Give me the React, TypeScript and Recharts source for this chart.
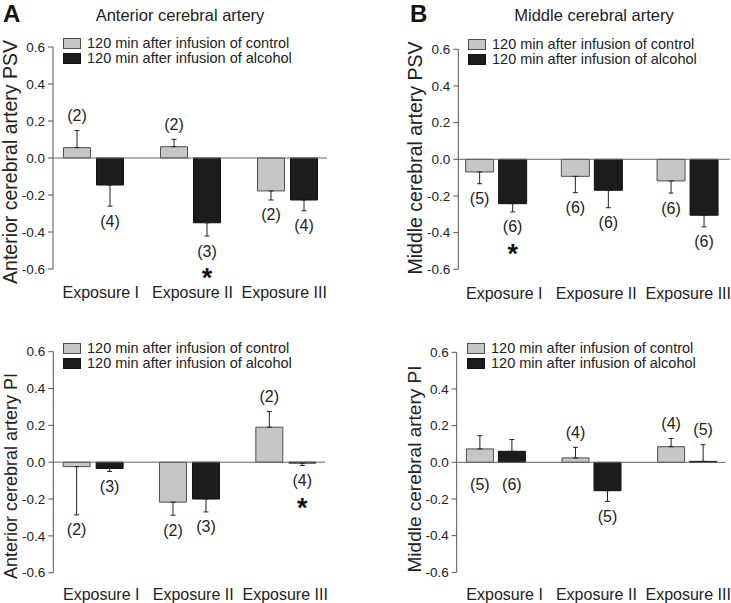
import React from 'react';
import { BarChart, Bar, XAxis, YAxis, ReferenceLine, ErrorBar, LabelList, Legend } from 'recharts';

// ---------- data ----------
const categories = ['Exposure I', 'Exposure II', 'Exposure III'];
const seriesNames = ['120 min after infusion of control', '120 min after infusion of alcohol'];
const yTicks = [-0.6, -0.4, -0.2, 0, 0.2, 0.4, 0.6];
const yMinorTicks = [-0.5, -0.3, -0.1, 0.1, 0.3, 0.5];

// A: anterior cerebral artery PSV
const acaPsvControl = [0.056, 0.061, -0.178];
const acaPsvControlErr = [0.092, 0.04, 0.049];
const acaPsvAlcohol = [-0.146, -0.35, -0.227];
const acaPsvAlcoholErr = [0.114, 0.072, 0.058];
const acaPsvControlN = [2, 2, 2];
const acaPsvAlcoholN = [4, 3, 4];
const acaPsvSignificant = [false, true, false];

// B: middle cerebral artery PSV
const mcaPsvControl = [-0.069, -0.093, -0.118];
const mcaPsvControlErr = [0.064, 0.089, 0.066];
const mcaPsvAlcohol = [-0.242, -0.169, -0.305];
const mcaPsvAlcoholErr = [0.045, 0.095, 0.064];
const mcaPsvControlN = [5, 6, 6];
const mcaPsvAlcoholN = [6, 6, 6];
const mcaPsvSignificant = [true, false, false];

// C: anterior cerebral artery PI
const acaPiControl = [-0.024, -0.217, 0.19];
const acaPiControlErr = [0.262, 0.071, 0.085];
const acaPiAlcohol = [-0.034, -0.2, -0.005];
const acaPiAlcoholErr = [0.016, 0.07, 0.013];
const acaPiControlN = [2, 2, 2];
const acaPiAlcoholN = [3, 3, 4];
const acaPiSignificant = [false, false, true];

// D: middle cerebral artery PI
const mcaPiControl = [0.073, 0.024, 0.085];
const mcaPiControlErr = [0.072, 0.058, 0.045];
const mcaPiAlcohol = [0.06, -0.155, 0.005];
const mcaPiAlcoholErr = [0.064, 0.058, 0.091];
const mcaPiControlN = [5, 4, 4];
const mcaPiAlcoholN = [6, 5, 5];
const mcaPiSignificant = [false, false, false];

// ---------- styles ----------
const FONT = '"Liberation Sans", Arial, Helvetica, sans-serif';
const TEXT = '#222';
const CONTROL_FILL = '#c6c6c6';
const CONTROL_STROKE = '#505050';
const ALCOHOL_FILL = '#1c1c1c';
const ALCOHOL_STROKE = '#111';
const AXIS = '#555';

type Row = {
  cat: string;
  control: number;
  controlE: number;
  controlErr: [number, number];
  alcohol: number;
  alcoholE: number;
  alcoholErr: [number, number];
  nControl: string;
  nAlcohol: string;
  sig: boolean;
};

function buildRows(
  ctrl: number[], ctrlErr: number[], alc: number[], alcErr: number[],
  nC: number[], nA: number[], sig: boolean[]
): Row[] {
  return categories.map((cat, i) => ({
    cat,
    control: ctrl[i],
    controlE: ctrlErr[i],
    controlErr: ctrl[i] >= 0 ? [0, ctrlErr[i]] : [ctrlErr[i], 0],
    alcohol: alc[i],
    alcoholE: alcErr[i],
    alcoholErr: alc[i] >= 0 ? [0, alcErr[i]] : [alcErr[i], 0],
    nControl: `(${nC[i]})`,
    nAlcohol: `(${nA[i]})`,
    sig: sig[i],
  }));
}

type Cfg = {
  left: number; top: number; width: number; height: number;
  plotLeft: number; plotRight: number; plotTop: number; plotBottom: number;
  firstCenter: number; spacing: number; barSize: number; barGap: number;
  labelFirst: number; labelSpacing: number;
  tickGap: number; legendLeft: number; legendTop: number;
  flipControl: boolean[]; flipAlcohol: boolean[];
};

const LABEL_GAP = 15;
const FLIP_GAP = 22;
const STAR_GAP = 21;

function makeLabel(kind: 'control' | 'alcohol', rows: Row[], cfg: Cfg) {
  const ppuFallback = (cfg.plotBottom - cfg.plotTop) / 1.2;
  return (props: any) => {
    const vb = props.viewBox || props;
    const x = Number(vb.x), y = Number(vb.y), w = Number(vb.width), h = Number(vb.height);
    let idx = props.index;
    if (idx == null) idx = rows.findIndex((r) => (kind === 'control' ? r.nControl : r.nAlcohol) === props.value);
    const row = rows[idx];
    if (!row) return null;
    const v = kind === 'control' ? row.control : row.alcohol;
    const e = kind === 'control' ? row.controlE : row.alcoholE;
    const flip = (kind === 'control' ? cfg.flipControl : cfg.flipAlcohol)[idx];
    const zero = v < 0 && h > 0 ? y : y + h;
    const valPix = v < 0 && h > 0 ? y + h : y;
    const k = Math.abs(v) > 1e-9 ? Math.abs(zero - valPix) / Math.abs(v) : ppuFallback;
    const dir = v >= 0 ? -1 : 1;
    const errEnd = valPix + dir * e * k;
    const cy = flip ? zero + FLIP_GAP : errEnd + dir * LABEL_GAP;
    const cx = x + w / 2;
    const text = kind === 'control' ? row.nControl : row.nAlcohol;
    return (
      <g>
        <text x={cx} y={cy + 5.5} textAnchor="middle" fontSize={16} fill={TEXT} fontFamily={FONT}>
          {text}
        </text>
        {kind === 'alcohol' && row.sig ? (
          <text x={cx} y={cy + STAR_GAP + 15} textAnchor="middle" fontSize={27} fontWeight="bold" fill="#111" fontFamily={FONT}>
            *
          </text>
        ) : null}
      </g>
    );
  };
}

const legendContent = () => (
  <svg width={240} height={30} style={{ display: 'block', overflow: 'visible' }}>
    <rect x={0.5} y={0.5} width={17} height={10} fill={CONTROL_FILL} stroke={CONTROL_STROKE} />
    <text x={24} y={10} fontSize={14.5} fill={TEXT} fontFamily={FONT}>{seriesNames[0]}</text>
    <rect x={0.5} y={15.5} width={17} height={10} fill={ALCOHOL_FILL} stroke={ALCOHOL_STROKE} />
    <text x={24} y={25} fontSize={14.5} fill={TEXT} fontFamily={FONT}>{seriesNames[1]}</text>
  </svg>
);

function bandPadding(first: number, spacing: number, plotLeft: number, plotRight: number) {
  const r0 = first - spacing / 2;
  return { left: r0 - plotLeft, right: plotRight - (r0 + 3 * spacing) };
}

function Panel({ cfg, rows }: { cfg: Cfg; rows: Row[] }) {
  const barPad = bandPadding(cfg.firstCenter, cfg.spacing, cfg.plotLeft, cfg.plotRight);
  const labelPad = bandPadding(cfg.labelFirst, cfg.labelSpacing, cfg.plotLeft, cfg.plotRight);
  const yAxisWidth = 40;
  const xAxisHeight = cfg.height - cfg.plotBottom;
  return (
    <div style={{ position: 'absolute', left: cfg.left, top: cfg.top, width: cfg.width, height: cfg.height }}>
      <BarChart
        width={cfg.width}
        height={cfg.height}
        data={rows}
        margin={{ top: cfg.plotTop, left: cfg.plotLeft - yAxisWidth, right: cfg.width - cfg.plotRight, bottom: 0 }}
        barSize={cfg.barSize}
        barGap={cfg.barGap}
      >
        <XAxis dataKey="cat" type="category" hide height={0} padding={barPad} />
        <XAxis
          xAxisId="labels"
          dataKey="cat"
          type="category"
          axisLine={false}
          tickLine={false}
          tickSize={0}
          tickMargin={cfg.tickGap}
          height={xAxisHeight}
          padding={labelPad}
          tick={{ fontSize: 16, fill: TEXT, fontFamily: FONT }}
          interval={0}
        />
        <YAxis
          type="number"
          domain={[-0.6, 0.6]}
          ticks={yTicks}
          width={yAxisWidth}
          tickSize={5}
          tickMargin={3}
          stroke={AXIS}
          tickLine={{ stroke: AXIS }}
          axisLine={{ stroke: AXIS }}
          tick={{ fontSize: 13.5, fill: TEXT, fontFamily: FONT }}
          tickFormatter={(v: number) => v.toFixed(1)}
          allowDataOverflow
        />
        <YAxis
          yAxisId="minor"
          type="number"
          orientation="left"
          mirror
          domain={[-0.6, 0.6]}
          ticks={yMinorTicks}
          tick={false}
          tickSize={2}
          axisLine={false}
          tickLine={{ stroke: AXIS }}
          allowDataOverflow
        />
        <ReferenceLine y={0} stroke="#666" strokeWidth={1} />
        <Bar
          dataKey="control"
          name={seriesNames[0]}
          fill={CONTROL_FILL}
          stroke={CONTROL_STROKE}
          strokeWidth={1}
          isAnimationActive={false}
        >
          <ErrorBar dataKey="controlErr" width={2.5} stroke="#222" strokeWidth={1} isAnimationActive={false} />
          <LabelList dataKey="nControl" content={makeLabel('control', rows, cfg)} />
        </Bar>
        <Bar
          dataKey="alcohol"
          name={seriesNames[1]}
          fill={ALCOHOL_FILL}
          stroke={ALCOHOL_STROKE}
          strokeWidth={1}
          isAnimationActive={false}
        >
          <ErrorBar dataKey="alcoholErr" width={2.5} stroke="#222" strokeWidth={1} isAnimationActive={false} />
          <LabelList dataKey="nAlcohol" content={makeLabel('alcohol', rows, cfg)} />
        </Bar>
        <Legend
          layout="horizontal"
          verticalAlign="middle"
          align="center"
          content={legendContent}
          wrapperStyle={{ left: cfg.legendLeft, top: cfg.legendTop, width: 240, height: 30 }}
        />
      </BarChart>
    </div>
  );
}

const cfgA: Cfg = {
  left: 0, top: 0, width: 365, height: 306,
  plotLeft: 53, plotRight: 327, plotTop: 47, plotBottom: 269,
  firstCenter: 93, spacing: 97, barSize: 27, barGap: 6,
  labelFirst: 100.8, labelSpacing: 91.7, tickGap: 18,
  legendLeft: 63, legendTop: 38,
  flipControl: [false, false, false], flipAlcohol: [false, false, false],
};
const cfgB: Cfg = {
  left: 365, top: 0, width: 366, height: 306,
  plotLeft: 93.3, plotRight: 365, plotTop: 49.3, plotBottom: 269.3,
  firstCenter: 131.5, spacing: 95.7, barSize: 28, barGap: 5,
  labelFirst: 139.3, labelSpacing: 92, tickGap: 18,
  legendLeft: 103, legendTop: 39,
  flipControl: [false, false, false], flipAlcohol: [false, false, false],
};
const cfgC: Cfg = {
  left: 0, top: 300, width: 365, height: 303,
  plotLeft: 53.3, plotRight: 325, plotTop: 51.7, plotBottom: 272.7,
  firstCenter: 93.3, spacing: 96.35, barSize: 27, barGap: 6,
  labelFirst: 101.2, labelSpacing: 92, tickGap: 16,
  legendLeft: 63, legendTop: 43,
  flipControl: [false, false, false], flipAlcohol: [false, false, false],
};
const cfgD: Cfg = {
  left: 365, top: 300, width: 366, height: 303,
  plotLeft: 91.7, plotRight: 360.7, plotTop: 52.3, plotBottom: 272.3,
  firstCenter: 131.2, spacing: 95.6, barSize: 27, barGap: 5,
  labelFirst: 139.6, labelSpacing: 91.8, tickGap: 16,
  legendLeft: 102, legendTop: 43,
  flipControl: [true, false, false], flipAlcohol: [true, false, false],
};

const rowsA = buildRows(acaPsvControl, acaPsvControlErr, acaPsvAlcohol, acaPsvAlcoholErr, acaPsvControlN, acaPsvAlcoholN, acaPsvSignificant);
const rowsB = buildRows(mcaPsvControl, mcaPsvControlErr, mcaPsvAlcohol, mcaPsvAlcoholErr, mcaPsvControlN, mcaPsvAlcoholN, mcaPsvSignificant);
const rowsC = buildRows(acaPiControl, acaPiControlErr, acaPiAlcohol, acaPiAlcoholErr, acaPiControlN, acaPiAlcoholN, acaPiSignificant);
const rowsD = buildRows(mcaPiControl, mcaPiControlErr, mcaPiAlcohol, mcaPiAlcoholErr, mcaPiControlN, mcaPiAlcoholN, mcaPiSignificant);

export default function App() {
  return (
    <div style={{ position: 'absolute', left: 0, top: 0, width: 731, height: 603, background: '#fff', fontFamily: FONT, overflow: 'hidden' }}>
      <Panel cfg={cfgA} rows={rowsA} />
      <Panel cfg={cfgB} rows={rowsB} />
      <Panel cfg={cfgC} rows={rowsC} />
      <Panel cfg={cfgD} rows={rowsD} />
      <svg width={731} height={603} style={{ position: 'absolute', left: 0, top: 0, pointerEvents: 'none' }} fontFamily={FONT}>
        <text x={3} y={22} fontSize={24} fontWeight="bold" fill="#111">A</text>
        <text x={410} y={22} fontSize={24} fontWeight="bold" fill="#111">B</text>
        <text x={180} y={21} fontSize={16.5} textAnchor="middle" fill={TEXT}>Anterior cerebral artery</text>
        <text x={594} y={21} fontSize={16.5} textAnchor="middle" fill={TEXT}>Middle cerebral artery</text>
        <text transform="translate(17,162) rotate(-90)" fontSize={19.5} textAnchor="middle" fill={TEXT}>Anterior cerebral artery PSV</text>
        <text transform="translate(422,158) rotate(-90)" fontSize={19.5} textAnchor="middle" fill={TEXT}>Middle cerebral artery PSV</text>
        <text transform="translate(17,476) rotate(-90)" fontSize={18} textAnchor="middle" fill={TEXT}>Anterior cerebral artery PI</text>
        <text transform="translate(421,469) rotate(-90)" fontSize={19} textAnchor="middle" fill={TEXT}>Middle cerebral artery PI</text>
      </svg>
    </div>
  );
}
